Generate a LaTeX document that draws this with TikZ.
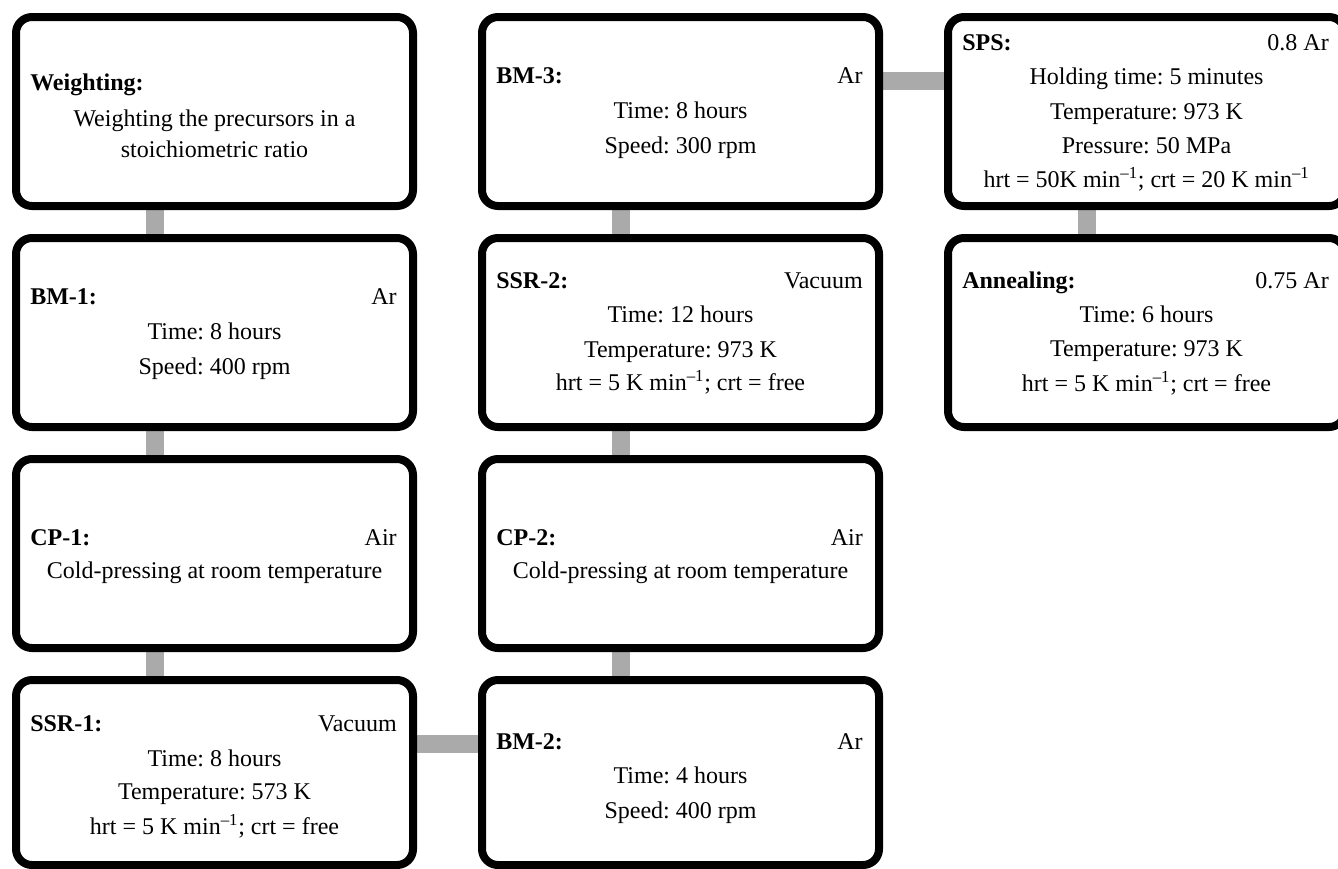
\documentclass[tikz,border=0pt]{standalone}
\usepackage{fontspec}
\setmainfont{Liberation Serif}
\usetikzlibrary{backgrounds}
\definecolor{conngray}{HTML}{AAAAAA}
\newcommand\mn{min\textsuperscript{\textendash1}}
\frenchspacing
\tikzset{
  stepbox/.style={draw=black, line width=6pt, rounded corners=12pt, fill=white,
    minimum width=297.75pt, minimum height=141.75pt, inner sep=0pt, outer sep=0pt,
    anchor=north west},
  lastrow/.style={minimum height=138.75pt},
  ttl/.style={anchor=base west, inner sep=0pt, font=\fontsize{18pt}{21pt}\selectfont\bfseries},
  atm/.style={anchor=base east, inner sep=0pt, font=\fontsize{18pt}{21pt}\selectfont},
  txt/.style={anchor=base, inner sep=0pt, font=\fontsize{18pt}{21pt}\selectfont},
  conn/.style={draw=conngray, line width=13.5pt}
}
\begin{document}
\begin{tikzpicture}[x=0.75pt,y=-0.75pt]
\useasboundingbox (0,0) rectangle (1338,868);
% boxes
\node[stepbox] (w)  at (16,17) {};
\node[stepbox] (b1) at (16,238) {};
\node[stepbox] (c1) at (16,459) {};
\node[stepbox,lastrow] (s1) at (16,680) {};
\node[stepbox] (b3) at (482,17) {};
\node[stepbox] (s2) at (482,238) {};
\node[stepbox] (c2) at (482,459) {};
\node[stepbox,lastrow] (b2) at (482,680) {};
\node[stepbox] (sps) at (948,17) {};
\node[stepbox] (an)  at (948,238) {};
% Weighting
\node[ttl] (wt) at ([shift={(14,73)}]w.north west) {Weighting:};
\node[txt] (w1) at ([shift={(0,109)}]w.north) {Weighting the precursors in a};
\node[txt] (w2) at ([shift={(0,140)}]w.north) {stoichiometric ratio};
% BM-1
\node[ttl] (b1t) at ([shift={(14,66)}]b1.north west) {BM-1:};
\node[atm] (b1a) at ([shift={(-16,66)}]b1.north east) {Ar};
\node[txt] (b1l1) at ([shift={(0,101)}]b1.north) {Time: 8 hours};
\node[txt] (b1l2) at ([shift={(0,136)}]b1.north) {Speed: 400 rpm};
% CP-1
\node[ttl] (c1t) at ([shift={(14,86)}]c1.north west) {CP-1:};
\node[atm] (c1a) at ([shift={(-16,86)}]c1.north east) {Air};
\node[txt] (c1l1) at ([shift={(0,119)}]c1.north) {Cold-pressing at room temperature};
% SSR-1
\node[ttl] (s1t) at ([shift={(14,51)}]s1.north west) {SSR-1:};
\node[atm] (s1a) at ([shift={(-16,51)}]s1.north east) {Vacuum};
\node[txt] (s1l1) at ([shift={(0,86)}]s1.north) {Time: 8 hours};
\node[txt] (s1l2) at ([shift={(0,119)}]s1.north) {Temperature: 573 K};
\node[txt] (s1l3) at ([shift={(0,154)}]s1.north) {hrt = 5 K \mn; crt = free};
% BM-3
\node[ttl] (b3t) at ([shift={(14,66)}]b3.north west) {BM-3:};
\node[atm] (b3a) at ([shift={(-16,66)}]b3.north east) {Ar};
\node[txt] (b3l1) at ([shift={(0,101)}]b3.north) {Time: 8 hours};
\node[txt] (b3l2) at ([shift={(0,136)}]b3.north) {Speed: 300 rpm};
% SSR-2
\node[ttl] (s2t) at ([shift={(14,50)}]s2.north west) {SSR-2:};
\node[atm] (s2a) at ([shift={(-16,50)}]s2.north east) {Vacuum};
\node[txt] (s2l1) at ([shift={(0,84)}]s2.north) {Time: 12 hours};
\node[txt] (s2l2) at ([shift={(0,119)}]s2.north) {Temperature: 973 K};
\node[txt] (s2l3) at ([shift={(0,152)}]s2.north) {hrt = 5 K \mn; crt = free};
% CP-2
\node[ttl] (c2t) at ([shift={(14,86)}]c2.north west) {CP-2:};
\node[atm] (c2a) at ([shift={(-16,86)}]c2.north east) {Air};
\node[txt] (c2l1) at ([shift={(0,119)}]c2.north) {Cold-pressing at room temperature};
% BM-2
\node[ttl] (b2t) at ([shift={(14,69)}]b2.north west) {BM-2:};
\node[atm] (b2a) at ([shift={(-16,69)}]b2.north east) {Ar};
\node[txt] (b2l1) at ([shift={(0,103)}]b2.north) {Time: 4 hours};
\node[txt] (b2l2) at ([shift={(0,138)}]b2.north) {Speed: 400 rpm};
% SPS
\node[ttl] (spst) at ([shift={(14,33)}]sps.north west) {SPS:};
\node[atm] (spsa) at ([shift={(-16,33)}]sps.north east) {0.8 Ar};
\node[txt] (spsl1) at ([shift={(0,67)}]sps.north) {Holding time: 5 minutes};
\node[txt] (spsl2) at ([shift={(0,102)}]sps.north) {Temperature: 973 K};
\node[txt] (spsl3) at ([shift={(0,136)}]sps.north) {Pressure: 50 MPa};
\node[txt] (spsl4) at ([shift={(0,170)}]sps.north) {hrt = 50K \mn; crt = 20 K \mn};
% Annealing
\node[ttl] (ant) at ([shift={(14,50)}]an.north west) {Annealing:};
\node[atm] (ana) at ([shift={(-16,50)}]an.north east) {0.75 Ar};
\node[txt] (anl1) at ([shift={(0,84)}]an.north) {Time: 6 hours};
\node[txt] (anl2) at ([shift={(0,118)}]an.north) {Temperature: 973 K};
\node[txt] (anl3) at ([shift={(0,153)}]an.north) {hrt = 5 K \mn; crt = free};
% connectors
\begin{scope}[on background layer]
\draw[conn] ([xshift=103.9pt]w.south west) -- ([xshift=103.9pt]b1.north west);
\draw[conn] ([xshift=103.9pt]b1.south west) -- ([xshift=103.9pt]c1.north west);
\draw[conn] ([xshift=103.9pt]c1.south west) -- ([xshift=103.9pt]s1.north west);
\draw[conn] ([yshift=-48pt]s1.north east) -- ([yshift=-48pt]b2.north west);
\draw[conn] ([xshift=103.9pt]b2.north west) -- ([xshift=103.9pt]c2.south west);
\draw[conn] ([xshift=103.9pt]c2.north west) -- ([xshift=103.9pt]s2.south west);
\draw[conn] ([xshift=103.9pt]s2.north west) -- ([xshift=103.9pt]b3.south west);
\draw[conn] ([yshift=-48pt]b3.north east) -- ([yshift=-48pt]sps.north west);
\draw[conn] ([xshift=103.9pt]sps.south west) -- ([xshift=103.9pt]an.north west);
\end{scope}
\end{tikzpicture}
\end{document}
